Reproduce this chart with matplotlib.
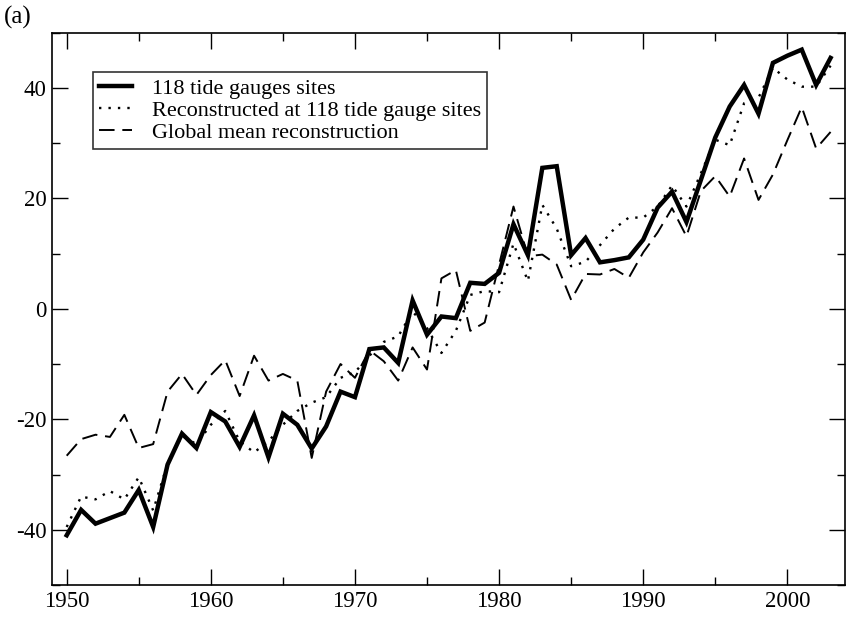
import matplotlib
matplotlib.use("Agg")
import matplotlib.pyplot as plt
from matplotlib.ticker import MultipleLocator

# ====================================
# DATA
# ====================================

years = list(range(1950, 2004))

tide_gauges = [
    -41.0, -36.4, -38.9, -37.9, -36.9, -32.8, -39.5, -28.2, -22.6, -25.2,
    -18.7, -20.4, -25.0, -19.3, -26.9, -19.0, -21.0, -25.3, -21.3, -15.0,
    -16.0, -7.3, -7.0, -9.8, 1.5, -4.7, -1.4, -1.7, 4.7, 4.5,
    6.5, 15.3, 9.7, 25.5, 25.8, 9.7, 12.8, 8.4, 8.8, 9.3,
    12.5, 18.3, 21.2, 15.7, 23.3, 31.0, 36.6, 40.5, 35.3, 44.5,
    45.8, 46.9, 40.5, 45.4
]

reconstructed_sites = [
    -39.5, -34.0, -34.5, -33.0, -34.5, -30.5, -36.5, -28.0, -23.0, -24.5,
    -21.0, -18.5, -24.0, -26.0, -24.0, -21.0, -18.5, -17.0, -16.0, -12.5,
    -11.5, -8.5, -6.0, -5.0, -0.5, -3.5, -8.0, -4.0, 2.5, 3.2,
    3.0, 11.8, 5.0, 18.8, 14.5, 7.7, 8.5, 11.5, 14.5, 16.5,
    16.5, 18.5, 22.3, 18.5, 24.5, 30.6, 29.6, 37.2, 38.2, 43.6,
    41.5, 40.2, 40.2, 44.0
]

global_mean = [
    -26.6, -23.6, -22.8, -23.2, -19.2, -25.2, -24.5, -15.0, -11.8, -15.6,
    -12.0, -9.3, -15.8, -8.5, -13.0, -11.8, -13.0, -27.0, -15.0, -10.0,
    -12.5, -7.5, -9.5, -13.0, -7.0, -11.0, 5.5, 7.0, -4.0, -2.5,
    8.0, 18.5, 9.5, 9.8, 8.0, 1.6, 6.3, 6.2, 7.2, 5.6,
    10.2, 13.8, 18.2, 13.1, 21.3, 24.0, 20.3, 27.2, 19.7, 24.3,
    30.5, 36.5, 29.0, 32.0
]

labels = [
    "118 tide gauges sites",
    "Reconstructed at 118 tide gauge sites",
    "Global mean reconstruction"
]

# ====================================
# FIGURE
# ====================================

plt.rcParams["font.family"] = ["Liberation Serif", "DejaVu Serif"]
plt.rcParams["axes.unicode_minus"] = False

fig = plt.figure(figsize=(8.46, 6.18), dpi=100)

ax = fig.add_axes([0.0618, 0.0534, 0.937, 0.894])

ax.plot(
    years,
    tide_gauges,
    color="black",
    linewidth=3.2,
    solid_joinstyle="miter",
    label=labels[0]
)

ax.plot(
    years,
    reconstructed_sites,
    color="black",
    linewidth=1.7,
    dashes=(1, 3.0),
    label=labels[1]
)

ax.plot(
    years,
    global_mean,
    color="black",
    linewidth=1.4,
    dashes=(8, 4),
    label=labels[2]
)

# ====================================
# AXES
# ====================================

ax.set_xlim(1949, 2004)
ax.set_ylim(-50, 50)

ax.xaxis.set_major_locator(MultipleLocator(10))
ax.xaxis.set_minor_locator(MultipleLocator(5))
ax.yaxis.set_major_locator(MultipleLocator(20))
ax.yaxis.set_minor_locator(MultipleLocator(10))

ax.tick_params(
    which="both",
    direction="in",
    top=True,
    right=True,
    width=1.0,
    labelsize=16.5
)
ax.tick_params(which="major", length=11.5, pad=4)
ax.tick_params(which="minor", length=5.8)

for spine in ax.spines.values():
    spine.set_linewidth(1.2)

leg = ax.legend(
    loc="upper left",
    bbox_to_anchor=(0.051, 0.9285),
    borderaxespad=0,
    fontsize=16,
    frameon=True,
    fancybox=False,
    edgecolor="black",
    handlelength=1.45,
    handletextpad=0.9,
    labelspacing=0.05,
    borderpad=0.3
)
leg.get_frame().set_linewidth(1.2)

fig.text(0.004, 0.962, "(a)", fontsize=18)

plt.savefig("out.png", dpi=100)
plt.close()
